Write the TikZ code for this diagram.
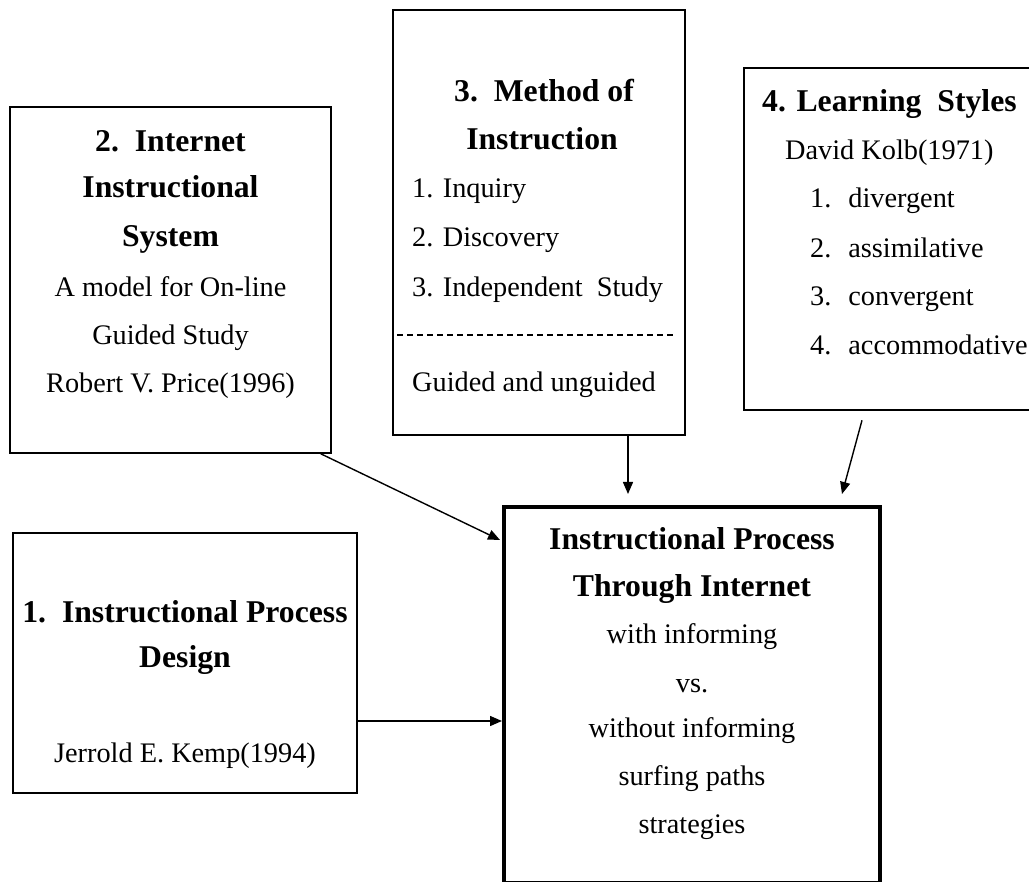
\documentclass[tikz,border=0pt]{standalone}
\usepackage{fontspec}
\setmainfont{Liberation Serif}
\usetikzlibrary{arrows.meta,calc}
\begin{document}
\begin{tikzpicture}[x=1pt,y=-1pt,
  box/.style={draw, line width=1.6pt, rectangle, inner sep=0pt},
  mainbox/.style={draw, line width=4pt, rectangle, inner sep=0pt},
  rg/.style={inner sep=0pt, font=\fontsize{28.3}{34}\selectfont, anchor=base},
  rgl/.style={rg, anchor=base west},
  bd/.style={inner sep=0pt, font=\fontsize{31.7}{38}\selectfont\bfseries, anchor=base},
  bdl/.style={bd, anchor=base west},
  arr/.style={line width=1.4pt, -{Triangle[length=12pt,width=10pt]}},
  sep/.style={line width=1.2pt, dash pattern=on 6pt off 4pt},
]
\useasboundingbox (0,0) rectangle (1029,882);
\fill[white] (0,0) rectangle (1029,882);
\clip (0,0) rectangle (1029,882);

% boxes
\node[box, minimum width=321pt, minimum height=346pt] (b2) at (170.5,280) {};
\node[box, minimum width=292pt, minimum height=425pt] (b3) at (539,222.5) {};
\node[box, minimum width=301pt, minimum height=342pt] (b4) at (894.5,239) {};
\node[mainbox, minimum width=376pt, minimum height=376pt] (b5) at (692,695) {};
\node[box, minimum width=344pt, minimum height=260pt] (b1) at (185,663) {};

% box 2 text
\node[bd] (t2a) at (170.5,152) {2.\ \ Internet};
\node[bd] (t2b) at (170.5,198) {Instructional};
\node[bd] (t2c) at (170.5,247) {System};
\node[rg] (t2d) at (170.5,297) {A model for On-line};
\node[rg] (t2e) at (170.5,345) {Guided Study};
\node[rg] (t2f) at (170.5,393) {Robert V. Price(1996)};

% box 3 text
\node[bd] (t3a) at (544,102) {3.\ \ Method of};
\node[bd] (t3b) at (542,150) {Instruction};
\node[rgl] (t3c) at (412,198) {1. Inquiry};
\node[rgl] (t3d) at (412,247) {2. Discovery};
\node[rgl] (t3e) at (412,297) {3. Independent\ \ Study};
\draw[sep] (397,335) -- (673,335);
\node[rgl] (t3f) at (412,392) {Guided and unguided};

% box 4 text
\node[bdl] (t4a) at (762,112) {4. Learning\ \ Styles};
\node[rgl] (t4b) at (785,160) {David Kolb(1971)};
\node[rgl] (t4c) at (810,208) {1.\hspace{17pt}divergent};
\node[rgl] (t4d) at (810,258) {2.\hspace{17pt}assimilative};
\node[rgl] (t4e) at (810,306) {3.\hspace{17pt}convergent};
\node[rgl] (t4f) at (810,355) {4.\hspace{17pt}accommodative};

% central box text
\node[bd] (t5a) at (692,550) {Instructional Process};
\node[bd] (t5b) at (692,597) {Through Internet};
\node[rg] (t5c) at (692,643) {with informing};
\node[rg] (t5d) at (692,692) {vs.};
\node[rg] (t5e) at (692,737) {without informing};
\node[rg] (t5f) at (692,785) {surfing paths};
\node[rg] (t5g) at (692,833) {strategies};

% box 1 text
\node[bd] (t1a) at (185,622) {1.\ \ Instructional Process};
\node[bd] (t1b) at (185,667) {Design};
\node[rg] (t1c) at (185,762) {Jerrold E. Kemp(1994)};

% connectors
\coordinate (r1) at (0,721);
\coordinate (e3) at (628,494);
\coordinate (e4) at (842,494);
\draw[arr] ([xshift=-11pt]b2.south east) -- ([shift={(-2pt,-35pt)}]b5.north west);
\draw[arr] ([xshift=89pt]b3.south) -- (e3);
\draw[arr] ([shift={(-32.5pt,-9.5pt)}]b4.south) -- (e4);
\draw[arr] (b1.east |- r1) -- (b5.west |- r1);
\end{tikzpicture}
\end{document}
